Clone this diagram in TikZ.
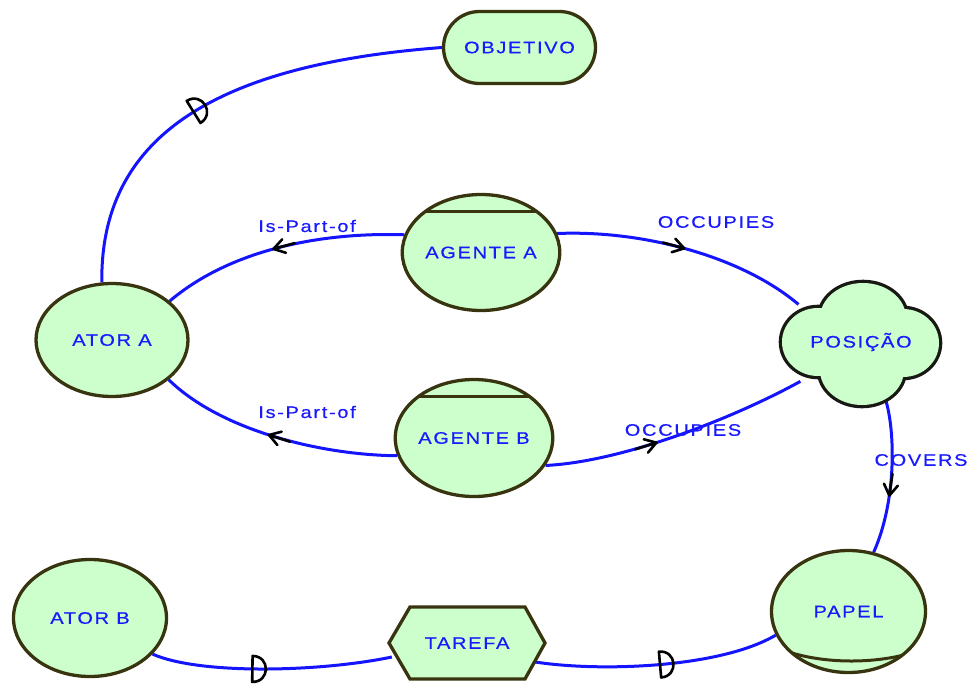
\documentclass[tikz,border=0pt]{standalone}
\usepackage{fontspec}
\setmainfont{Liberation Sans}
\newfontfamily\mapfont{Liberation Sans}[FakeStretch=1.2,LetterSpace=10,FakeBold=0.4]
\usetikzlibrary{shapes.geometric,shapes.misc,decorations.markings,calc}

\definecolor{nodefill}{RGB}{204,255,204}
\definecolor{rim}{RGB}{55,52,15}
\definecolor{cloudrim}{RGB}{25,25,20}
\definecolor{inkblue}{RGB}{25,25,255}
\definecolor{linkblue}{RGB}{20,20,255}

\pgfdeclarelayer{links}
\pgfsetlayers{links,main}

\tikzset{
  lbl/.style={text=inkblue, font=\mapfont\fontsize{16.7}{18}\selectfont, inner sep=0pt},
  concept/.style={lbl, ellipse, draw=rim, fill=nodefill, line width=3.3pt},
  link/.style={draw=linkblue, line width=3pt},
  tipmark/.style={decoration={markings, mark=at position #1 with {%
      \draw[black, line width=2.6pt, line cap=round, line join=round]
        (-22,0) -- (0,0) (-11,-7) -- (0,0) -- (-11,7);}},
    postaction={decorate}},
  discmark/.style={decoration={markings, mark=at position #1 with {%
      \draw[black, line width=2.6pt, line join=round]
        (0,13) .. controls (18,13) and (18,-13) .. (0,-13) -- cycle;}},
    postaction={decorate}},
}

\begin{document}
\begin{tikzpicture}[x=1pt,y=-1pt]
\useasboundingbox (0,0) rectangle (973,685);

% four-lobed cloud behind POSICAO: thick outline pass, then fill pass
\foreach \cx/\cy/\rx/\ry in {863/318/43/35, 862/370/42/35, 818/342/36/34, 903/343/36/34}
  \draw[cloudrim, fill=nodefill, line width=6.6pt] (\cx,\cy) ellipse [x radius=\rx pt, y radius=\ry pt];
\foreach \cx/\cy/\rx/\ry in {863/318/43/35, 862/370/42/35, 818/342/36/34, 903/343/36/34}
  \fill[nodefill] (\cx,\cy) ellipse [x radius=\rx pt, y radius=\ry pt];

% hexagon behind TAREFA
\draw[rim, fill=nodefill, line width=3.3pt]
  (389,643) -- (410,607) -- (525,607) -- (545,643) -- (525,679) -- (410,679) -- cycle;

% concepts
\node[concept, rounded rectangle, minimum width=152pt, minimum height=72pt] (objetivo) at (519.5,47.5) {OBJETIVO};
\node[concept, minimum width=152pt, minimum height=113pt] (atora) at (112,340) {ATOR A};
\node[concept, minimum width=155pt, minimum height=116pt,
  path picture={\draw[rim, line width=3pt]
    ([yshift=-16.5pt]path picture bounding box.north west) --
    ([yshift=-16.5pt]path picture bounding box.north east);}] (agentea) at (481,252.5) {AGENTE A};
\node[concept, minimum width=151pt, minimum height=117pt,
  path picture={\draw[rim, line width=3pt]
    ([yshift=-16.5pt]path picture bounding box.north west) --
    ([yshift=-16.5pt]path picture bounding box.north east);}] (agenteb) at (474,438) {AGENTE B};
\node[lbl, ellipse, minimum width=158pt, minimum height=122pt] (posicao) at (861,342) {POSIÇÃO};
\node[concept, minimum width=153pt, minimum height=117pt] (atorb) at (90,618) {ATOR B};
\node[lbl, minimum width=156pt, minimum height=72pt] (tarefa) at (467,643) {TAREFA};
\node[concept, minimum width=154pt, minimum height=122pt,
  path picture={\draw[rim, line width=3pt]
    ($(path picture bounding box.south west)+(-10,-34)$) .. controls
    ($(path picture bounding box.south west)+(30,-4)$) and
    ($(path picture bounding box.south west)+(130,-4)$) ..
    ($(path picture bounding box.south west)+(170,-34)$);}] (papel) at (848.5,611.5) {PAPEL};

% link labels
\node[lbl] (isparta) at (307,226) {Is-Part-of};
\node[lbl] (ispartb) at (307,412) {Is-Part-of};
\node[lbl] (occa) at (716,222) {OCCUPIES};
\node[lbl] (occb) at (683,430) {OCCUPIES};
\node[lbl] (covers) at (921,460) {COVERS};

% links, kept underneath the concepts
\begin{pgfonlayer}{links}
\draw[link, discmark=0.44] (atora.100) .. controls (100,140) and (210,65) .. (objetivo.west);
\draw[link, tipmark=0.53] (agentea.167) .. controls (320,232) and (230,250) .. (atora.34);
\draw[link, tipmark=0.5] (agentea.14) .. controls (640,230) and (740,255) .. (posicao.149);
\draw[link, tipmark=0.53] (agenteb.-167) .. controls (320,455) and (220,430) .. (atora.-35);
\draw[link, tipmark=0.42] (agenteb.-21) .. controls (620,462) and (730,420) .. (posicao.-147);
\draw[link, tipmark=0.62] (posicao.-67) .. controls (895,430) and (897,500) .. (papel.67);
\draw[link, discmark=0.42] (atorb.-30) .. controls (200,675) and (320,672) .. ($(tarefa.west)+(3,14)$);
\draw[link, discmark=0.51] ($(tarefa.east)+(-10,19)$) .. controls (600,672) and (720,668) .. (papel.-162);
\end{pgfonlayer}
\end{tikzpicture}
\end{document}
